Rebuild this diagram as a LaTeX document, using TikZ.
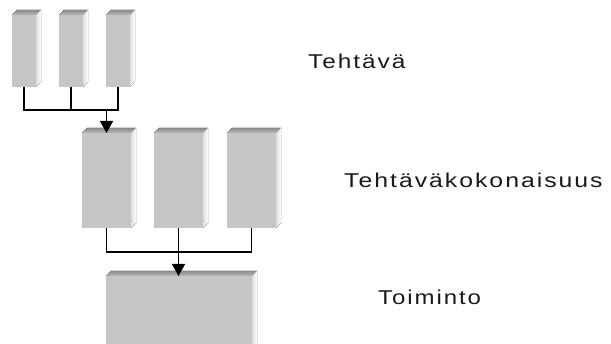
\documentclass[tikz,border=0pt]{standalone}
\usepackage{fontspec}
\setmainfont{Liberation Sans}
\usepackage{graphicx}
\usetikzlibrary{arrows.meta,calc}
\definecolor{boxfront}{RGB}{198,198,198}
\definecolor{boxtop}{RGB}{140,140,140}
\definecolor{boxtoplight}{RGB}{185,185,185}
\definecolor{boxside}{RGB}{222,222,222}
\tikzset{
  blk/.style={draw=none,fill=boxfront,rectangle,inner sep=0,outer sep=0,anchor=north west},
  conn/.style={line width=1.6pt,draw=black},
  arr/.style={conn,-{Triangle[width=13pt,length=12pt]}},
  lbl/.style={anchor=base west,inner sep=0,text=black!90,font=\fontsize{20}{22}\selectfont\addfontfeature{LetterSpace=8}}
}
\newcommand{\mkthreed}[1]{%
  \fill[top color=boxtop,bottom color=boxtoplight] (#1.north west) -- ++(5,-5) -- ($(#1.north east)+(5,-5)$) -- (#1.north east) -- cycle;
  \fill[left color=boxside,right color=white] (#1.north east) -- ++(5,-5) -- ($(#1.south east)+(5,-5)$) -- (#1.south east) -- cycle;
}
\newcommand{\wide}[2][1.2]{\scalebox{#1}[1]{#2}}
\begin{document}
\begin{tikzpicture}[x=1pt,y=-1pt]
\useasboundingbox (0,0) rectangle (611,344);
\clip (0,0) rectangle (611,344);
% top row
\node[blk,minimum width=24pt,minimum height=72pt] (t1) at (12,15) {};
\node[blk,minimum width=24pt,minimum height=72pt] (t2) at (59,15) {};
\node[blk,minimum width=24pt,minimum height=72pt] (t3) at (106,15) {};
\mkthreed{t1}\mkthreed{t2}\mkthreed{t3}
% middle row
\node[blk,minimum width=49pt,minimum height=95pt] (m1) at (82,133) {};
\node[blk,minimum width=49pt,minimum height=95pt] (m2) at (154,133) {};
\node[blk,minimum width=49pt,minimum height=95pt] (m3) at (227,133) {};
\mkthreed{m1}\mkthreed{m2}\mkthreed{m3}
% bottom
\node[blk,minimum width=146pt,minimum height=80pt] (b1) at (106,276) {};
\mkthreed{b1}
% connectors
\coordinate (j1) at (106.5,110);
\coordinate (j2) at (178.5,252);
\draw[conn] (t1.south) -- (t1.south |- j1) -- (t3.south |- j1) -- (t3.south);
\draw[conn] (t2.south) -- (t2.south |- j1);
\draw[arr] (j1) -- (j1 |- m1.north);
\draw[conn] (m1.south) -- (m1.south |- j2) -- (m3.south |- j2) -- (m3.south);
\draw[conn] (m2.south) -- (m2.south |- j2);
\draw[arr] (j2) -- (j2 |- b1.north);
% labels
\node[lbl] (l1) at (308,68.5) {\wide[1.22]{Tehtävä}};
\node[lbl] (l2) at (344,188) {\wide[1.24]{Tehtäväkokonaisuus}};
\node[lbl] (l3) at (378,305) {\wide{Toiminto}};
\end{tikzpicture}
\end{document}
